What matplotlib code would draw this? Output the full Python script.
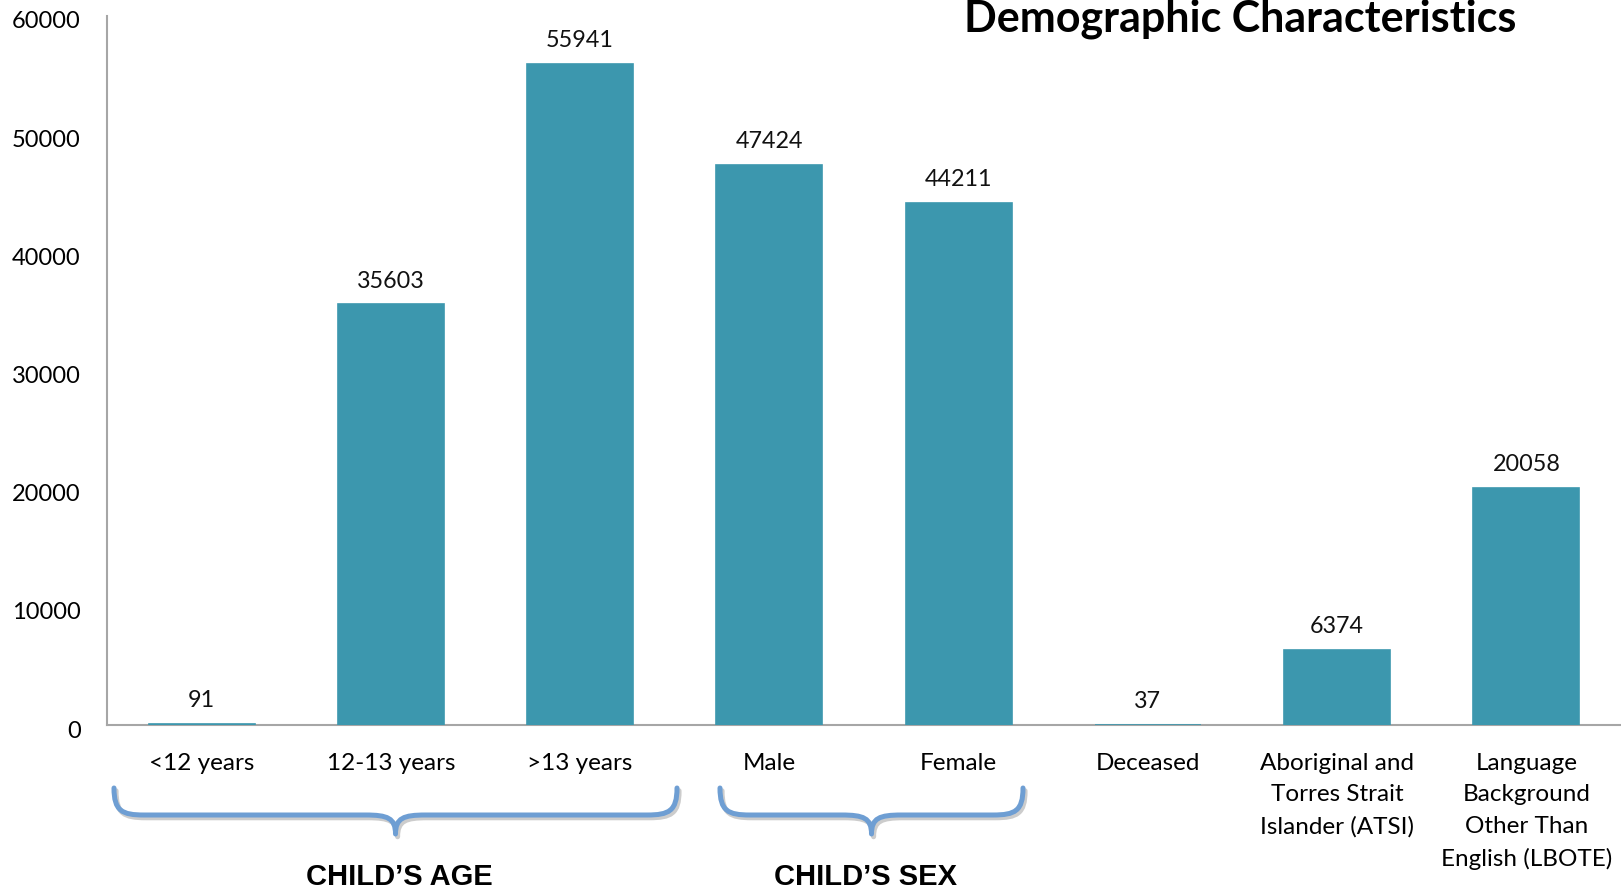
import matplotlib
matplotlib.use("Agg")
import matplotlib.pyplot as plt
import matplotlib.patheffects as pe
from matplotlib.path import Path
from matplotlib.patches import PathPatch
from matplotlib.transforms import Affine2D, ScaledTranslation

categories = [
    "<12 years",
    "12-13 years",
    ">13 years",
    "Male",
    "Female",
    "Deceased",
    "Aboriginal and\nTorres Strait\nIslander (ATSI)",
    "Language\nBackground\nOther Than\nEnglish (LBOTE)",
]
counts = [91, 35603, 55941, 47424, 44211, 37, 6374, 20058]
yticks = [0, 10000, 20000, 30000, 40000, 50000, 60000]
groups = [("CHILD\u2019S AGE", 0, 2), ("CHILD\u2019S SEX", 3, 4)]

BAR = "#3C97AE"
BRACE = "#6E9ED3"
W, H = 1621, 893

plt.rcParams["font.family"] = ["Lato", "DejaVu Sans"]

fig = plt.figure(figsize=(W / 100, H / 100), dpi=100)
ax = fig.add_axes([107 / W, 1 - 725 / H, 1 - 107 / W, (725 - 16) / H])

x = list(range(len(categories)))
# edge keeps the near-zero bars visible as a thin strip on the axis
ax.bar(x, counts, width=0.56, color=BAR, edgecolor=BAR, linewidth=1.2, zorder=3)
for xi, v in zip(x, counts):
    ax.annotate(str(v), (xi, v), xytext=(0, 9), textcoords="offset points",
                ha="center", va="bottom", fontsize=16.8, color="#111111")

ax.set_xlim(-0.5, len(categories) - 0.5)
ax.set_ylim(0, 60000)
ax.set_yticks(yticks)
ax.set_yticklabels([str(t) for t in yticks], fontsize=17)
ax.set_xticks(x)
ax.set_xticklabels(categories, fontsize=17.5, linespacing=1.62, va="top")
ax.tick_params(axis="both", length=0)
ax.tick_params(axis="y", pad=19)
ax.tick_params(axis="x", pad=20)
for lab in ax.get_yticklabels():
    lab.set_transform(lab.get_transform() + ScaledTranslation(0, -4 / 100, fig.dpi_scale_trans))

for side in ("top", "right"):
    ax.spines[side].set_visible(False)
for side in ("left", "bottom"):
    ax.spines[side].set_color("#A6A6A6")
    ax.spines[side].set_linewidth(1.5)

fig.text(1240 / W, 1 - 19 / H, "Demographic Characteristics", ha="center", va="center",
         fontsize=31, fontweight="bold")

# curly braces under the grouped categories, drawn in pixel space
pix = Affine2D().scale(1, -1).translate(0, H).scale(1 / W, 1 / H) + fig.transFigure


def brace(x0, x1, top=788, mid=815, tip=834, r=30):
    xc = (x0 + x1) / 2
    verts = [
        (x0, top),
        (x0, mid - 4), (x0 + 8, mid), (x0 + r, mid),
        (xc - r, mid),
        (xc - 8, mid), (xc, mid + 3), (xc, tip),
        (xc, mid + 3), (xc + 8, mid), (xc + r, mid),
        (x1 - r, mid),
        (x1 - 8, mid), (x1, mid - 4), (x1, top),
    ]
    codes = [Path.MOVETO,
             Path.CURVE4, Path.CURVE4, Path.CURVE4,
             Path.LINETO,
             Path.CURVE4, Path.CURVE4, Path.CURVE4,
             Path.CURVE4, Path.CURVE4, Path.CURVE4,
             Path.LINETO,
             Path.CURVE4, Path.CURVE4, Path.CURVE4]
    patch = PathPatch(Path(verts, codes), transform=pix, fill=False, edgecolor=BRACE,
                      linewidth=3.6, capstyle="round", joinstyle="round")
    patch.set_path_effects([pe.SimpleLineShadow(offset=(1.5, -2), shadow_color="#9a9a9a", alpha=0.5),
                            pe.Normal()])
    fig.add_artist(patch)


for (label, i0, i1), (bx0, bx1, lx) in zip(groups, [(114, 677, 399), (720, 1023, 866)]):
    brace(bx0, bx1)
    fig.text(lx / W, 1 - 877 / H, label, ha="center", va="center", fontsize=21,
             fontweight="bold", family=["Liberation Sans", "DejaVu Sans"])

fig.savefig("out.png", dpi=100)
